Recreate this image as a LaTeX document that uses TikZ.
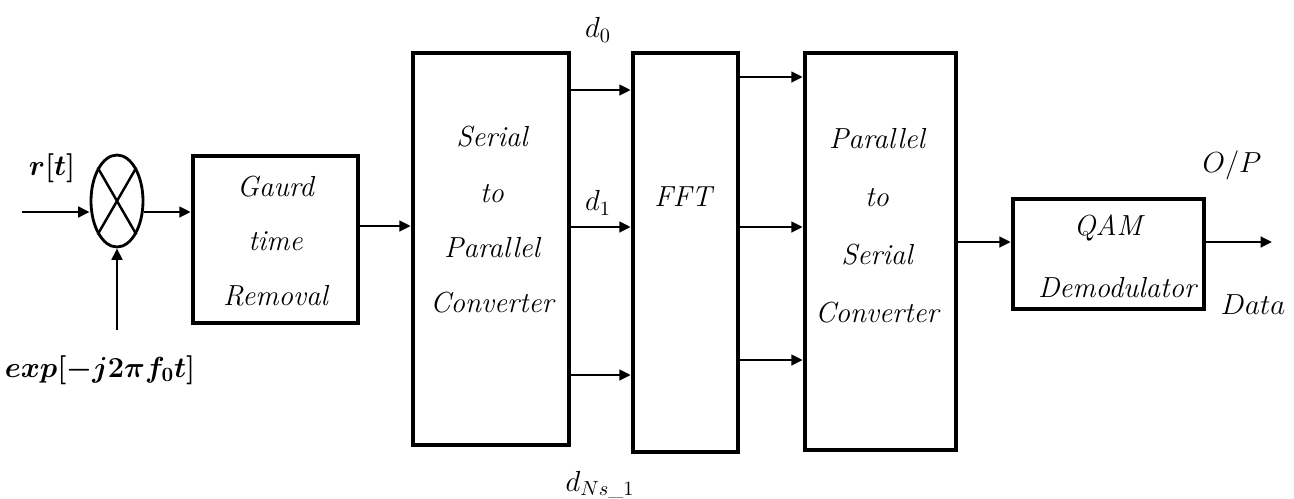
\RequirePackage{fix-cm}
\documentclass[tikz,border=0pt]{standalone}
\usepackage{amsmath,bm}
\usepackage{fontspec}
\usetikzlibrary{shapes.geometric,arrows.meta}
\tikzset{
  blk/.style={draw, line width=2.6pt, inner sep=0pt},
  arr/.style={line width=1.6pt, -{Triangle[length=6.5pt,width=6pt]}},
  lbl/.style={inner sep=0pt, font=\fontsize{16.5}{20}\selectfont},
  txt/.style={inner sep=0pt, align=center, font=\fontsize{16.5}{31}\selectfont\itshape},
}
\begin{document}
\begin{tikzpicture}[x=0.02cm,y=-0.02cm]
\useasboundingbox (0,0) rectangle (1294,498);
% mixer
\node[draw, ellipse, line width=1.6pt, minimum width=1.04cm, minimum height=1.84cm, inner sep=0pt] (mix) at (117,201) {};
\draw[line width=1.4pt] (mix.north west) -- (mix.south east);
\draw[line width=1.4pt] (mix.north east) -- (mix.south west);
\coordinate (in) at (22,212);
\coordinate (lo) at (117,330);
\coordinate (out) at (1272,242);
% blocks
\node[blk, minimum width=3.3cm, minimum height=3.34cm] (gaurd) at (275.5,239.5) {};
\node[txt] at (275.5,241) {Gaurd\\time\\Removal};
\node[blk, minimum width=3.12cm, minimum height=7.84cm] (sp) at (491,249) {};
\node[txt, font=\fontsize{16.5}{31.5}\selectfont\itshape] at (492,220) {Serial\\to\\Parallel\\Converter};
\node[blk, minimum width=2.1cm, minimum height=7.98cm] (fft) at (685.5,252.5) {};
\node[txt] at (683,197) {FFT};
\node[blk, minimum width=3.02cm, minimum height=7.94cm] (ps) at (880.5,251.5) {};
\node[txt, font=\fontsize{16.5}{33}\selectfont\itshape] at (877,225.5) {Parallel\\to\\Serial\\Converter};
\node[blk, minimum width=3.82cm, minimum height=2.2cm] (qam) at (1108.5,254) {};
\node[txt] at (1108,228) {QAM};
\node[txt] at (1117,288) {Demodulator};
% connectors
\draw[arr] (in) -- (in -| mix.west);
\draw[arr] (lo) -- (mix.south);
\draw[arr] (mix.east |- 0,212) -- (gaurd.west |- 0,212);
\draw[arr] (gaurd.east |- 0,226) -- (sp.west |- 0,226);
\foreach \yy in {90,227,375} \draw[arr] (sp.east |- 0,\yy) -- (fft.west |- 0,\yy);
\foreach \yy in {77,227,360} \draw[arr] (fft.east |- 0,\yy) -- (ps.west |- 0,\yy);
\draw[arr] (ps.east |- 0,242) -- (qam.west |- 0,242);
\draw[arr] (qam.east |- 0,242) -- (out);
% labels
\node[lbl] at (52,168) {$\bm{r[t]}$};
\node[lbl] at (100,370) {$\bm{exp[-j2\pi f_0t]}$};
\node[lbl] at (598,30) {$d_0$};
\node[lbl] at (598,203) {$d_1$};
\node[lbl] at (600,485) {$d_{Ns\_1}$};
\node[lbl] at (1232,165) {$O/P$};
\node[lbl] at (1253,305) {$Data$};
\end{tikzpicture}
\end{document}
